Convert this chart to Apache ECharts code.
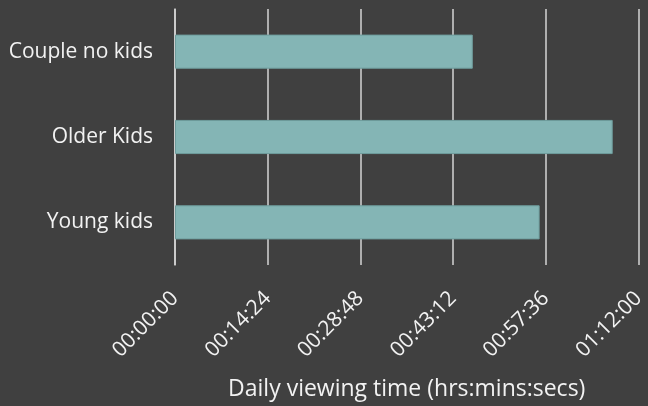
<!DOCTYPE html>
<html>
<head>
<meta charset="utf-8">
<script src="https://cdn.jsdelivr.net/npm/echarts@6/dist/echarts.min.js"></script>
<style>
  html, body { margin: 0; padding: 0; background: #404040; }
  #main { width: 648px; height: 406px; }
</style>
</head>
<body>
<div id="main"></div>
<script>
// categories, bottom to top as echarts draws them
const groups = ['Young kids', 'Older Kids', 'Couple no kids'];
// daily viewing time in seconds
const viewingSecs = [3399, 4080, 2776];
const axisMax = 4320; // 01:12:00
const tickStep = 864; // 00:14:24

function fmtTime(s) {
  const h = Math.floor(s / 3600);
  const m = Math.floor((s % 3600) / 60);
  const sec = Math.round(s % 60);
  const pad = (n) => String(n).padStart(2, '0');
  return pad(h) + ':' + pad(m) + ':' + pad(sec);
}

const chart = echarts.init(document.getElementById('main'));
chart.setOption({
  backgroundColor: '#404040',
  textStyle: { fontFamily: 'Open Sans' },
  grid: { left: 175, right: 6, top: 9, bottom: 138, containLabel: false },
  xAxis: {
    type: 'value',
    min: 0,
    max: axisMax,
    interval: tickStep,
    name: 'Daily viewing time (hrs:mins:secs)',
    nameLocation: 'middle',
    nameGap: 113,
    nameTextStyle: { color: '#f2f2f2', fontSize: 23 },
    axisLine: { show: false },
    axisTick: { show: false },
    splitLine: { show: true, lineStyle: { color: '#d4d4d4', width: 1.5 } },
    axisLabel: {
      color: '#f2f2f2',
      fontSize: 21,
      rotate: 45,
      margin: 30,
      formatter: (v) => fmtTime(v)
    }
  },
  yAxis: {
    type: 'category',
    data: groups,
    axisLine: { show: true, lineStyle: { color: '#d4d4d4', width: 1.5 } },
    axisTick: { show: false },
    axisLabel: { color: '#f2f2f2', fontSize: 21, margin: 22 }
  },
  series: [{
    type: 'bar',
    data: viewingSecs,
    barWidth: '40%',
    itemStyle: { color: '#84b5b5', borderColor: '#6e9c9c', borderWidth: 1 }
  }]
});
</script>
</body>
</html>
